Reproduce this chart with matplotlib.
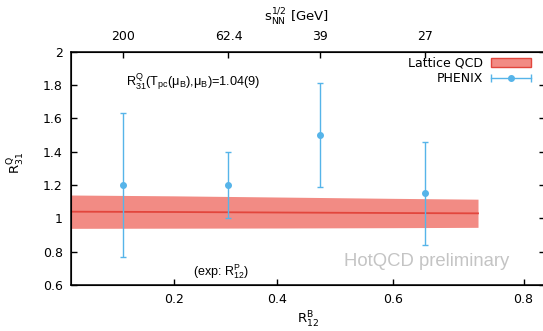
import numpy as np
import matplotlib
matplotlib.use("Agg")
import matplotlib.pyplot as plt
from matplotlib.lines import Line2D
from matplotlib.patches import Patch
from matplotlib.legend_handler import HandlerLine2D, HandlerTuple

# --- data ---
# lattice QCD band vs R12^B
band_x = [0.0, 0.2, 0.4, 0.6, 0.73]
band_mid = [1.040, 1.038, 1.035, 1.032, 1.030]
band_hi = [1.140, 1.135, 1.128, 1.120, 1.115]
band_lo = [0.940, 0.941, 0.942, 0.944, 0.946]

# PHENIX points (x = R12^P)
phenix_x = [0.101, 0.305, 0.474, 0.649]
phenix_y = [1.20, 1.20, 1.50, 1.15]
phenix_err = [0.43, 0.20, 0.31, 0.31]
energies = ["200", "62.4", "39", "27"]

xticks = [0.2, 0.4, 0.6, 0.8]
yticks = [0.6, 0.8, 1.0, 1.2, 1.4, 1.6, 1.8, 2.0]
ytick_labels = ["0.6", "0.8", "1", "1.2", "1.4", "1.6", "1.8", "2"]

# the x axis of the original is stretched towards large R12
scale_r = np.array([-0.2, 0.0, 0.2, 0.4, 0.6, 0.8, 1.0])
scale_p = np.array([-103.3, 0.0, 103.3, 206.3, 322.3, 452.3, 582.3])

def fwd(x):
    return np.interp(x, scale_r, scale_p)

def inv(p):
    return np.interp(p, scale_p, scale_r)

red = "#e2463d"
salmon = "#f28b84"
blue = "#56b4e9"

fig = plt.figure(figsize=(5.43, 3.31), dpi=100)
ax = fig.add_axes([71 / 543, 1 - 285 / 331, 474 / 543, 233.3 / 331])
ax.set_xscale("function", functions=(fwd, inv))

ax.fill_between(band_x, band_lo, band_hi, color=salmon, lw=0, zorder=2)
ax.plot(band_x, band_mid, color=red, lw=1.3, zorder=3)
ax.errorbar(phenix_x, phenix_y, yerr=phenix_err, fmt="o", color=blue, ms=4,
            lw=1, capsize=2.5, capthick=1, zorder=4)

ax.set_xlim(0, 0.833)
ax.set_ylim(0.6, 2.0)
ax.set_xticks(xticks)
ax.set_xticklabels([str(t) for t in xticks])
ax.set_yticks(yticks)
ax.set_yticklabels(ytick_labels)
ax.minorticks_off()
ax.tick_params(direction="in", length=4, width=1, labelsize=9, pad=6,
               right=True, top=False)
for s in ax.spines.values():
    s.set_linewidth(1.1)

ax.set_xlabel(r"$\mathregular{R^{B}_{12}}$", fontsize=9.5)
ax.xaxis.set_label_coords(0.501, -0.108)
ax.set_ylabel(r"$\mathregular{R^{Q}_{31}}$", fontsize=9.5)
ax.yaxis.set_label_coords(-0.092, 0.523)

# top axis: collision energies
top = ax.twiny()
top.set_xscale("function", functions=(fwd, inv))
top.set_xlim(ax.get_xlim())
top.set_xticks(phenix_x)
top.set_xticklabels(energies)
top.minorticks_off()
top.tick_params(direction="in", length=4, width=1, labelsize=9, pad=6)
top.set_xlabel(r"$\mathregular{s_{NN}^{1/2}}$ [GeV]", fontsize=9.5)
top.xaxis.set_label_coords(0.476, 1.128)

ax.text(0.115, 0.87, r"$\mathregular{R^{Q}_{31}(T_{pc}(\mu_B){,}\mu_B)}$=1.04(9)",
        transform=ax.transAxes, fontsize=9.2, family="Liberation Sans",
        va="center", ha="left")
ax.text(0.258, 0.058, r"(exp: $\mathregular{R^{P}_{12}}$)", transform=ax.transAxes,
        fontsize=9, family="Liberation Sans", va="center", ha="left")
ax.text(0.575, 0.10, "HotQCD preliminary", transform=ax.transAxes,
        fontsize=13.3, family="Liberation Sans", color="#c4c4c4",
        va="center", ha="left")

# legend, gnuplot style (label first)
h_band = Patch(facecolor=salmon, edgecolor=red, lw=1)
h_bar = Line2D([], [], color=blue, lw=1, marker="|", ms=6, mew=1)
h_dot = Line2D([], [], color=blue, lw=0, marker="o", ms=4)
ax.legend([h_band, (h_bar, h_dot)], ["Lattice QCD", "PHENIX"],
          handler_map={h_bar: HandlerLine2D(numpoints=2, marker_pad=0),
                       h_dot: HandlerLine2D(numpoints=1),
                       tuple: HandlerTuple(ndivide=1)},
          loc="upper right", bbox_to_anchor=(531 / 543, 1 - 57 / 331),
          bbox_transform=fig.transFigure, frameon=False, markerfirst=False,
          fontsize=9, handlelength=3.2, handletextpad=0.6, labelspacing=0.2,
          borderpad=0, borderaxespad=0)

fig.savefig("out.png", dpi=100)
